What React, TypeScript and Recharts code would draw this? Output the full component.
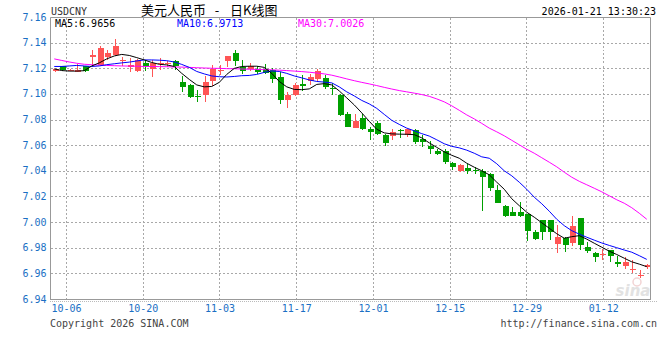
import React from 'react';
import { ComposedChart, Bar, Line, XAxis, YAxis, CartesianGrid, ReferenceLine } from 'recharts';

const opens = [
  7.1182, 7.1218, 7.1187, 7.1178, 7.1218, 7.1290, 7.1232, 7.1290, 7.1304, 7.1268,
  7.1213, 7.1182, 7.1244, 7.1195, 7.1240, 7.1237, 7.1257, 7.1096, 7.1070, 7.0990,
  7.0998, 7.1101, 7.1185, 7.1261, 7.1325, 7.1213, 7.1195, 7.1200, 7.1200, 7.1187,
  7.1135, 7.0959, 7.0998, 7.1078, 7.1101, 7.1117, 7.1125, 7.1047, 7.0992, 7.0844,
  7.0741, 7.0816, 7.0728, 7.0777, 7.0681, 7.0673, 7.0722, 7.0681, 7.0720, 7.0655,
  7.0595, 7.0558, 7.0558, 7.0465, 7.0403, 7.0426, 7.0410, 7.0403, 7.0377, 7.0252,
  7.0128, 7.0083, 7.0083, 7.0065, 6.9927, 7.0019, 7.0017, 6.9832, 6.9881, 6.9842,
  7.0037, 6.9806, 6.9759, 6.9750, 6.9785, 6.9694, 6.9663, 6.9633, 6.9588, 6.9650,
];
const highs = [
  7.1200, 7.1224, 7.1195, 7.1240, 7.1225, 7.1343, 7.1376, 7.1343, 7.1429, 7.1291,
  7.1286, 7.1278, 7.1271, 7.1265, 7.1286, 7.1258, 7.1270, 7.1140, 7.1083, 7.1037,
  7.1140, 7.1230, 7.1232, 7.1301, 7.1349, 7.1265, 7.1247, 7.1222, 7.1240, 7.1205,
  7.1174, 7.1018, 7.1088, 7.1148, 7.1161, 7.1195, 7.1148, 7.1088, 7.1000, 7.0862,
  7.0850, 7.0850, 7.0745, 7.0792, 7.0694, 7.0733, 7.0733, 7.0733, 7.0728, 7.0681,
  7.0636, 7.0577, 7.0572, 7.0473, 7.0460, 7.0460, 7.0430, 7.0421, 7.0390, 7.0291,
  7.0135, 7.0125, 7.0162, 7.0065, 6.9940, 7.0019, 7.0019, 6.9980, 6.9884, 7.0050,
  7.0037, 6.9845, 6.9772, 6.9795, 6.9790, 6.9738, 6.9734, 6.9707, 6.9629, 6.9674,
];
const lows = [
  7.1178, 7.1182, 7.1184, 7.1172, 7.1175, 7.1218, 7.1230, 7.1265, 7.1300, 7.1218,
  7.1174, 7.1174, 7.1182, 7.1135, 7.1193, 7.1215, 7.1187, 7.1018, 7.0970, 7.0940,
  7.0940, 7.1065, 7.1148, 7.1213, 7.1225, 7.1162, 7.1182, 7.1162, 7.1158, 7.1091,
  7.0928, 7.0893, 7.0990, 7.1030, 7.1073, 7.1105, 7.1045, 7.0998, 7.0830, 7.0745,
  7.0741, 7.0720, 7.0642, 7.0681, 7.0595, 7.0642, 7.0663, 7.0668, 7.0616, 7.0590,
  7.0538, 7.0525, 7.0460, 7.0410, 7.0395, 7.0382, 7.0382, 7.0091, 7.0245, 7.0149,
  7.0040, 7.0050, 7.0044, 6.9857, 6.9866, 6.9868, 6.9868, 6.9760, 6.9772, 6.9816,
  6.9790, 6.9759, 6.9694, 6.9711, 6.9690, 6.9650, 6.9640, 6.9610, 6.9570, 6.9640,
];
const closes = [
  7.1197, 7.1187, 7.1192, 7.1190, 7.1182, 7.1310, 7.1361, 7.1322, 7.1376, 7.1272,
  7.1232, 7.1271, 7.1218, 7.1247, 7.1244, 7.1245, 7.1218, 7.1057, 7.0979, 7.0985,
  7.1096, 7.1195, 7.1189, 7.1301, 7.1261, 7.1182, 7.1218, 7.1174, 7.1166, 7.1117,
  7.0959, 7.0998, 7.1070, 7.1065, 7.1135, 7.1182, 7.1060, 7.1043, 7.0837, 7.0745,
  7.0790, 7.0728, 7.0706, 7.0689, 7.0624, 7.0706, 7.0718, 7.0728, 7.0629, 7.0629,
  7.0572, 7.0538, 7.0473, 7.0430, 7.0447, 7.0403, 7.0406, 7.0356, 7.0266, 7.0153,
  7.0050, 7.0050, 7.0050, 6.9935, 6.9871, 6.9927, 6.9930, 6.9884, 6.9824, 6.9972,
  6.9824, 6.9779, 6.9728, 6.9754, 6.9740, 6.9674, 6.9694, 6.9637, 6.9592, 6.9668,
];
const ma5 = [
  7.1199, 7.1186, 7.1182, 7.1182, 7.1185, 7.1222, 7.1246, 7.1277, 7.1300, 7.1312,
  7.1304, 7.1287, 7.1269, 7.1249, 7.1235, 7.1230, 7.1218, 7.1164, 7.1117, 7.1074,
  7.1059, 7.1062, 7.1094, 7.1156, 7.1203, 7.1218, 7.1220, 7.1220, 7.1211, 7.1164,
  7.1101, 7.1059, 7.1039, 7.1037, 7.1043, 7.1078, 7.1084, 7.1074, 7.1027, 7.0973,
  7.0918, 7.0856, 7.0790, 7.0728, 7.0700, 7.0692, 7.0690, 7.0689, 7.0686, 7.0661,
  7.0622, 7.0587, 7.0552, 7.0525, 7.0502, 7.0463, 7.0432, 7.0404, 7.0373, 7.0315,
  7.0260, 7.0186, 7.0132, 7.0081, 7.0042, 6.9999, 6.9956, 6.9913, 6.9878, 6.9890,
  6.9898, 6.9871, 6.9839, 6.9808, 6.9777, 6.9751, 6.9722, 6.9694, 6.9676, 6.9656,
];
const ma10 = [
  7.1218, 7.1218, 7.1222, 7.1226, 7.1222, 7.1218, 7.1222, 7.1232, 7.1239, 7.1246,
  7.1252, 7.1261, 7.1269, 7.1269, 7.1267, 7.1263, 7.1253, 7.1234, 7.1211, 7.1179,
  7.1160, 7.1144, 7.1138, 7.1136, 7.1140, 7.1146, 7.1148, 7.1156, 7.1172, 7.1183,
  7.1179, 7.1164, 7.1144, 7.1129, 7.1113, 7.1101, 7.1096, 7.1090, 7.1059, 7.1020,
  7.0988, 7.0953, 7.0926, 7.0891, 7.0844, 7.0798, 7.0766, 7.0737, 7.0716, 7.0694,
  7.0675, 7.0646, 7.0615, 7.0595, 7.0583, 7.0565, 7.0541, 7.0513, 7.0502, 7.0459,
  7.0404, 7.0365, 7.0315, 7.0260, 7.0198, 7.0147, 7.0089, 7.0026, 6.9976, 6.9937,
  6.9910, 6.9886, 6.9863, 6.9841, 6.9822, 6.9804, 6.9786, 6.9769, 6.9742, 6.9713,
];
const ma30 = [
  7.1277, 7.1265, 7.1253, 7.1243, 7.1235, 7.1232, 7.1228, 7.1226, 7.1224, 7.1222,
  7.1221, 7.1220, 7.1218, 7.1218, 7.1217, 7.1216, 7.1214, 7.1213, 7.1211, 7.1208,
  7.1206, 7.1204, 7.1203, 7.1201, 7.1200, 7.1198, 7.1196, 7.1195, 7.1193, 7.1192,
  7.1189, 7.1186, 7.1182, 7.1178, 7.1173, 7.1167, 7.1160, 7.1150, 7.1136, 7.1121,
  7.1107, 7.1094, 7.1082, 7.1069, 7.1055, 7.1042, 7.1030, 7.1020, 7.1010, 7.0999,
  7.0985, 7.0965, 7.0942, 7.0911, 7.0876, 7.0840, 7.0809, 7.0774, 7.0737, 7.0708,
  7.0677, 7.0642, 7.0607, 7.0572, 7.0541, 7.0506, 7.0471, 7.0435, 7.0393, 7.0354,
  7.0322, 7.0295, 7.0268, 7.0240, 7.0209, 7.0178, 7.0151, 7.0116, 7.0073, 7.0026,
];
const dateLabels = ['10-06', '10-20', '11-03', '11-17', '12-01', '12-15', '12-29', '01-12'];
const yTicks = [6.94, 6.96, 6.98, 7.0, 7.02, 7.04, 7.06, 7.08, 7.1, 7.12, 7.14, 7.16];

const RED = '#ff5555';
const GREEN = '#00a000';
const BLUE_TXT = '#1a6fc4';
const MONO = '"DejaVu Sans Mono", monospace';
const CJK = '"Noto Sans CJK SC", sans-serif';

const data = opens.map((o, i) => ({
  x: i + 0.5,
  range: [lows[i], highs[i]],
  open: o,
  close: closes[i],
  high: highs[i],
  low: lows[i],
  ma5: ma5[i],
  ma10: ma10[i],
  ma30: ma30[i],
}));

const xTickValues = dateLabels.map((_, k) => 2.13 + k * 10.233);

const Candle = (props: any) => {
  const { x, y, width, height, payload } = props;
  if (x == null || y == null) return null;
  const { open, close, high, low } = payload;
  const cx = Math.round(x + width / 2);
  const span = high - low;
  const py = (v: number) => (span > 0 ? y + ((high - v) / span) * height : y);
  const color = close >= open ? RED : GREEN;
  const top = Math.round(py(Math.max(open, close)));
  const bot = Math.round(py(Math.min(open, close)));
  const bh = Math.max(1, bot - top);
  return (
    <g shapeRendering="crispEdges">
      <line x1={cx + 0.5} x2={cx + 0.5} y1={Math.round(y)} y2={Math.round(y + height)} stroke={color} strokeWidth={1} />
      <rect x={cx - 2} y={top} width={6} height={bh} fill={color} />
    </g>
  );
};

const XTick = (props: any) => {
  const { x, y, payload } = props;
  return (
    <text x={x} y={y + 12.5} textAnchor="middle" fill={BLUE_TXT} fontSize={10} fontFamily={MONO}>
      {dateLabels[payload.index]}
    </text>
  );
};

const YTick = (props: any) => {
  const { x, y, payload } = props;
  return (
    <text x={x - 4} y={y + 3} textAnchor="end" fill={BLUE_TXT} fontSize={10} fontFamily={MONO}>
      {Number(payload.value).toFixed(2)}
    </text>
  );
};

export default function App() {
  const last = ma5.length - 1;
  return (
    <div style={{ position: 'absolute', left: 0, top: 0, width: 660, height: 360, background: '#fff' }}>
      <ComposedChart width={660} height={360} data={data} margin={{ top: 17.5, right: 9.5, left: 0.5, bottom: 0 }}>
        <CartesianGrid stroke="#a8a8a8" strokeDasharray="2 2" shapeRendering="crispEdges" />
        <XAxis
          dataKey="x"
          type="number"
          domain={[0, 80]}
          ticks={xTickValues}
          interval={0}
          height={60.5}
          tickSize={0}
          tickMargin={0}
          tickLine={false}
          axisLine={{ stroke: '#999' }}
          tick={<XTick />}
          allowDataOverflow
        />
        <YAxis
          type="number"
          domain={[6.94, 7.16]}
          ticks={yTicks}
          interval={0}
          width={50}
          tickSize={0}
          tickMargin={0}
          tickLine={false}
          axisLine={{ stroke: '#999' }}
          tick={<YTick />}
          allowDataOverflow
        />
        <ReferenceLine y={7.16} stroke="#999" />
        <ReferenceLine x={80} stroke="#999" />
        <Bar dataKey="range" barSize={6} isAnimationActive={false} shape={(p: any) => <Candle {...p} />} />
        <Line dataKey="ma30" type="linear" stroke="#ff00ff" strokeWidth={1} dot={false} activeDot={false} isAnimationActive={false} />
        <Line dataKey="ma10" type="linear" stroke="#0000ff" strokeWidth={1} dot={false} activeDot={false} isAnimationActive={false} />
        <Line dataKey="ma5" type="linear" stroke="#000000" strokeWidth={1} dot={false} activeDot={false} isAnimationActive={false} />
      </ComposedChart>
      <svg width={660} height={360} style={{ position: 'absolute', left: 0, top: 0, pointerEvents: 'none' }}>
        <text x={51} y={15} fontSize={10} fontFamily={MONO} fill="#333">USDCNY</text>
        <text x={141} y={14.5} fontSize={13} fontFamily={CJK} fill="#000">美元人民币</text>
        <text x={217} y={14.5} fontSize={13} textAnchor="middle" fontFamily={CJK} fill="#000">-</text>
        <text x={230} y={14.5} fontSize={13} fontFamily={CJK} fill="#000">日K线图</text>
        <text x={656} y={15} fontSize={10} textAnchor="end" fontFamily={MONO} fill="#000">2026-01-21 13:30:23</text>
        <text x={55} y={27} fontSize={10} fontFamily={MONO} fill="#000">{`MA5:${ma5[last].toFixed(4)}`}</text>
        <text x={177} y={27} fontSize={10} fontFamily={MONO} fill="#0000ff">{`MA10:${ma10[last].toFixed(4)}`}</text>
        <text x={298} y={27} fontSize={10} fontFamily={MONO} fill="#ff00ff">{`MA30:${ma30[last].toFixed(4)}`}</text>
        <line x1={50} x2={657} y1={301.5} y2={301.5} stroke="#bbb" strokeDasharray="1 1" />
        <circle cx={637} cy={282} r={4} fill="none" stroke="#f2d4d4" strokeWidth={1.5} />
        <text x={633} y={296} fontSize={15} fontStyle="italic" fontWeight="bold" textAnchor="middle" fontFamily='"DejaVu Sans", sans-serif' fill="#e2e2e2">sina</text>
        <text x={50} y={327} fontSize={10} fontFamily={MONO} fill="#444">Copyright 2026 SINA.COM</text>
        <text x={657} y={327} fontSize={10} textAnchor="end" fontFamily={MONO} fill="#444">http://finance.sina.com.cn</text>
      </svg>
    </div>
  );
}
